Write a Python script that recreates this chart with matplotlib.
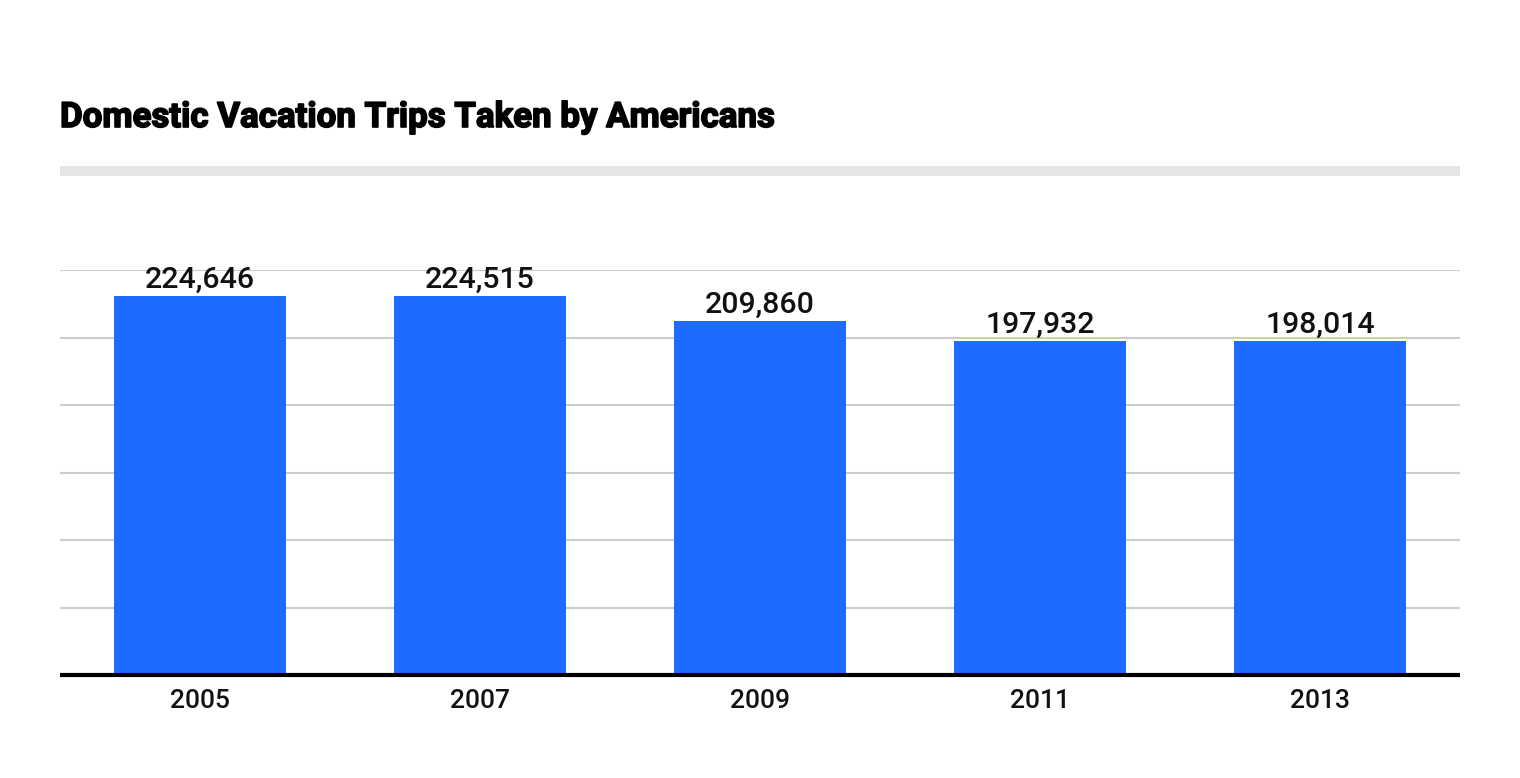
import matplotlib
matplotlib.use("Agg")
import matplotlib.pyplot as plt
import matplotlib.patheffects as pe
from matplotlib.patches import Rectangle

years = ["2005", "2007", "2009", "2011", "2013"]
trips = [224646, 224515, 209860, 197932, 198014]

plt.rcParams['font.family'] = ['Roboto', 'DejaVu Sans']

fig = plt.figure(figsize=(15.2, 7.78), dpi=100)
ax = fig.add_axes([60 / 1520, 103 / 778, 1400 / 1520, 405 / 778])

bars = ax.bar(range(len(years)), trips, width=0.614, color="#1f6bff", zorder=2)
for b, v in zip(bars, trips):
    ax.annotate(f"{v:,}", (b.get_x() + b.get_width() / 2, v), xytext=(0, 6),
                textcoords="offset points", ha="center", va="baseline",
                fontsize=21.8, fontweight="medium", color="#111111")

ax.set_xlim(-0.5, len(years) - 0.5)
ax.set_ylim(0, 240000)
ax.set_yticks(range(0, 240001, 40000))
ax.yaxis.grid(True, color="#cccccc", lw=1.5, zorder=0)
ax.tick_params(axis="y", left=False, labelleft=False)
ax.set_xticks(range(len(years)))
ax.set_xticklabels(years, fontsize=19, fontweight="medium", color="#111111")
ax.tick_params(axis="x", length=0, pad=10)
for s in ["top", "left", "right"]:
    ax.spines[s].set_visible(False)
ax.spines["bottom"].set_linewidth(3)
ax.spines["bottom"].set_color("black")
ax.spines["bottom"].set_capstyle("butt")
ax.spines["bottom"].set_zorder(3)

fig.text(60 / 1520, (778 - 127) / 778, "Domestic Vacation Trips Taken by Americans",
         fontsize=25.1, fontweight="bold", ha="left", va="baseline", color="black",
         path_effects=[pe.withStroke(linewidth=1.2, foreground="black")])
fig.patches.append(Rectangle((60 / 1520, (778 - 176) / 778), 1400 / 1520, 10 / 778,
                             transform=fig.transFigure, color="#e6e6e6", lw=0))

fig.savefig("out.png", dpi=100)
